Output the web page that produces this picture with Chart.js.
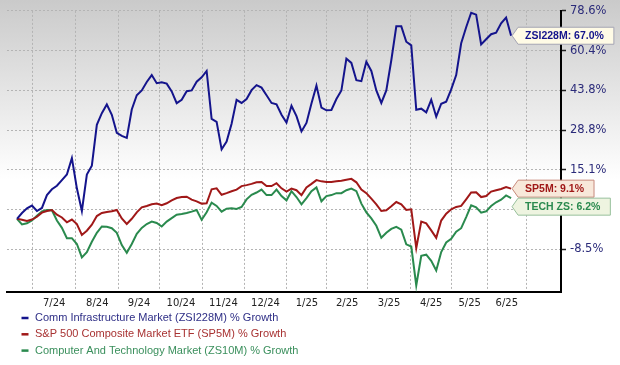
<!DOCTYPE html>
<html>
<head>
<meta charset="utf-8">
<script src="https://cdn.jsdelivr.net/npm/chart.js@4.4.1/dist/chart.umd.min.js"></script>
<style>
html, body { margin: 0; padding: 0; background: #fff; }
canvas { display: block; }
</style>
</head>
<body>
<canvas id="growthChart" width="620" height="365"></canvas>
<script>
// y axis is logarithmic on (growth + BASE), that is what spaces the original ticks evenly
const BASE = 120;

const seriesNames = [
    'Comm Infrastructure Market (ZSI228M) % Growth',
    'S&P 500 Composite Market ETF (SP5M) % Growth',
    'Computer And Technology Market (ZS10M) % Growth'
];
const seriesTags = ['ZSI228M', 'SP5M', 'TECH ZS'];

// % growth, sampled evenly from late June 2024 to late June 2025
const commInfra = [
    0, 1.7, 3.1, 3.9, 2.3, 3.2, 7.1, 8.9, 10.0, 11.8,
    13.6, 19.0, 9.2, 2.3, 13.6, 16.5, 30.7, 35.0, 38.3, 34.4,
    27.8, 26.7, 26.0, 36.4, 41.9, 43.8, 47.2, 50.0, 46.7, 47.1,
    46.5, 43.4, 38.8, 40.1, 43.5, 43.8, 47.3, 49.1, 51.7, 32.9,
    31.8, 22.0, 24.7, 31.1, 40.1, 38.9, 40.4, 43.9, 45.9, 44.9,
    41.9, 38.9, 38.4, 34.4, 31.5, 37.8, 33.9, 28.3, 31.4, 38.7,
    45.7, 37.1, 36.1, 36.2, 40.4, 43.8, 56.9, 55.1, 47.9, 47.5,
    55.6, 51.7, 43.8, 38.9, 43.8, 56.2, 71.3, 71.3, 64.3, 62.7,
    36.3, 36.7, 35.3, 40.1, 33.7, 38.6, 39.4, 44.2, 50.0, 63.6,
    70.9, 77.7, 76.8, 63.1, 65.4, 67.7, 68.4, 72.7, 75.4, 67.0
];
const sp500 = [
    0, -0.3, -0.6, -0.2, 0.6, 1.8, 2.3, 2.6, 1.2, 0.4,
    -1.0, -0.2, -1.5, -4.6, -3.4, -1.7, 0.8, 1.7, 2.0, 2.2,
    2.6, 0.1, -1.5, 0.0, 1.9, 3.4, 3.8, 4.3, 4.5, 4.0,
    4.6, 5.5, 6.2, 6.5, 6.6, 5.7, 5.2, 4.5, 4.6, 8.9,
    9.2, 7.2, 7.7, 8.3, 8.8, 9.9, 10.2, 10.6, 11.1, 11.2,
    9.9, 9.9, 10.8, 9.2, 8.2, 9.1, 8.6, 7.1, 9.5, 10.6,
    11.8, 11.4, 11.2, 11.2, 11.4, 11.6, 11.9, 12.2, 11.1, 8.8,
    7.7, 6.0, 4.3, 2.3, 2.5, 3.7, 5.0, 4.3, 2.6, 2.8,
    -8.2, -0.8, -1.3, -3.3, -5.4, -0.5, 1.5, 2.8, 3.5, 3.8,
    5.8, 7.9, 8.0, 6.5, 6.8, 8.2, 8.6, 9.0, 9.6, 9.1
];
const compTech = [
    0, -1.6, -1.3, -0.5, 0.9, 2.2, 2.6, 2.5, -0.5, -2.6,
    -5.5, -5.5, -7.1, -10.7, -9.3, -6.5, -4.0, -2.2, -2.3, -2.7,
    -4.0, -7.4, -9.5, -7.1, -4.3, -2.6, -1.5, -0.8, -1.2, -2.2,
    -0.8, 0.2, 1.2, 1.4, 1.7, 2.1, 2.6, -0.3, 1.9, 4.8,
    3.8, 2.1, 3.0, 3.1, 2.9, 3.5, 5.8, 7.2, 7.9, 8.8,
    7.1, 7.1, 8.8, 6.8, 5.5, 8.3, 6.5, 4.3, 6.2, 8.3,
    9.5, 5.2, 6.8, 7.1, 7.7, 7.7, 8.6, 9.1, 8.3, 4.5,
    1.9, 0.1, -2.0, -5.4, -4.0, -2.9, -2.3, -3.1, -7.2, -7.8,
    -17.9, -10.3, -10.0, -11.6, -14.1, -9.3, -6.7, -5.7, -3.7, -2.7,
    0.5, 4.0, 3.4, 1.8, 2.2, 3.8, 4.9, 5.7, 7.0, 6.2
];

const yTicks = [78.6, 60.4, 43.8, 28.8, 15.1, 2.7, -8.5];
const monthLabels = ['7/24', '8/24', '9/24', '10/24', '11/24', '12/24', '1/25', '2/25', '3/25', '4/25', '5/25', '6/25'];
// sample index where each month begins (Jul 2024 ... Jul 2025)
const monthStarts = [3.1, 11.8, 20.4, 28.5, 37.2, 45.5, 54.1, 62.1, 70.2, 78.9, 87.1, 94.3, 102];

const lineColors = ['#14148c', '#a01818', '#2a8a4e'];
const textColors = ['#2e2e86', '#a83232', '#3a8f5c'];
const boxFills = ['#fffbe6', '#f8e8da', '#eef4e0'];
const boxBorders = ['#a4a4b4', '#c88a7c', '#98c09c'];

const gridAt = new Set(monthStarts);
const labelAt = new Map();
monthLabels.forEach((m, k) => labelAt.set((monthStarts[k] + monthStarts[k + 1]) / 2, m));

const toPoints = arr => arr.map((v, i) => ({ x: i, y: v + BASE }));

const backgroundPlugin = {
    id: 'bg',
    beforeDraw(chart) {
        const { ctx, width, height } = chart;
        const g = ctx.createLinearGradient(0, 0, 0, 180);
        g.addColorStop(0, '#cacaca');
        g.addColorStop(1, '#ffffff');
        ctx.save();
        ctx.fillStyle = g;
        ctx.fillRect(0, 0, width, height);
        ctx.restore();
    }
};

const legendPlugin = {
    id: 'bottomLegend',
    afterDraw(chart) {
        const ctx = chart.ctx;
        ctx.save();
        ctx.font = '11px "Liberation Sans", Arial, sans-serif';
        ctx.textBaseline = 'middle';
        seriesNames.forEach((name, i) => {
            const y = 318 + i * 16.3;
            ctx.strokeStyle = lineColors[i];
            ctx.lineWidth = 2.5;
            ctx.beginPath();
            ctx.moveTo(21.5, y);
            ctx.lineTo(28.5, y);
            ctx.stroke();
            ctx.fillStyle = textColors[i];
            ctx.fillText(name, 35, y);
        });
        ctx.restore();
    }
};

const endLabelPlugin = {
    id: 'endLabels',
    afterDraw(chart) {
        const ctx = chart.ctx;
        const items = chart.data.datasets.map((ds, i) => {
            const pts = chart.getDatasetMeta(i).data;
            const last = pts[pts.length - 1];
            const raw = ds.data[ds.data.length - 1].y - BASE;
            return { i, x: last.x, y: last.y, text: seriesTags[i] + ': ' + raw.toFixed(1) + '%' };
        }).sort((a, b) => a.y - b.y);
        for (let k = 1; k < items.length; k++) {
            if (items[k].y < items[k - 1].y + 18) items[k].y = items[k - 1].y + 18;
        }
        ctx.save();
        ctx.font = 'bold 10.5px "Liberation Sans", Arial, sans-serif';
        ctx.textBaseline = 'middle';
        items.forEach(it => {
            const tip = it.x + 1;
            const left = tip + 6;
            const w = ctx.measureText(it.text).width + 17;
            const h = 8.5;
            ctx.beginPath();
            ctx.moveTo(tip, it.y);
            ctx.lineTo(left, it.y - h);
            ctx.lineTo(left + w, it.y - h);
            ctx.lineTo(left + w, it.y + h);
            ctx.lineTo(left, it.y + h);
            ctx.closePath();
            ctx.fillStyle = boxFills[it.i];
            ctx.fill();
            ctx.strokeStyle = boxBorders[it.i];
            ctx.lineWidth = 1;
            ctx.stroke();
            ctx.fillStyle = lineColors[it.i];
            ctx.fillText(it.text, left + 7, it.y + 0.5);
        });
        ctx.restore();
    }
};

const series = [commInfra, sp500, compTech];

new Chart(document.getElementById('growthChart'), {
    type: 'line',
    data: {
        datasets: series.map((s, i) => ({
            label: seriesNames[i],
            data: toPoints(s),
            borderColor: lineColors[i],
            borderWidth: 2,
            pointRadius: 0,
            tension: 0,
            fill: false
        }))
    },
    options: {
        responsive: false,
        animation: false,
        devicePixelRatio: 1,
        layout: { padding: { top: 9, left: 7, right: 0, bottom: 0 } },
        plugins: {
            legend: { display: false },
            tooltip: { enabled: false }
        },
        scales: {
            x: {
                type: 'linear',
                min: -2,
                max: 109,
                afterBuildTicks: scale => {
                    scale.ticks = [...monthStarts, ...labelAt.keys()]
                        .sort((a, b) => a - b)
                        .map(v => ({ value: v }));
                },
                ticks: {
                    autoSkip: false,
                    maxRotation: 0,
                    padding: 5,
                    color: '#222',
                    font: { family: 'DejaVu Sans', size: 10 },
                    callback: v => labelAt.get(v) || ''
                },
                grid: {
                    color: c => (c.tick && gridAt.has(c.tick.value)) ? '#b4b4b4' : 'transparent',
                    drawTicks: false
                },
                border: { color: '#000', width: 2, dash: [2, 2] },
                afterFit: scale => { scale.height = 73; }
            },
            y: {
                type: 'logarithmic',
                position: 'right',
                min: BASE - 19.5,
                max: BASE + 78.6,
                afterBuildTicks: scale => {
                    scale.ticks = yTicks.map(t => ({ value: t + BASE }));
                },
                ticks: {
                    color: '#2b2b7a',
                    padding: 4,
                    autoSkip: false,
                    font: { family: 'DejaVu Sans', size: 11.5 },
                    callback: v => (v - BASE).toFixed(1) + '%'
                },
                grid: { color: '#b4b4b4', tickColor: '#222', tickLength: 5, tickWidth: 1.5 },
                border: { color: '#000', width: 2, dash: [2, 2] },
                afterFit: scale => { scale.width = 59; }
            }
        }
    },
    plugins: [backgroundPlugin, legendPlugin, endLabelPlugin]
});
</script>
</body>
</html>
